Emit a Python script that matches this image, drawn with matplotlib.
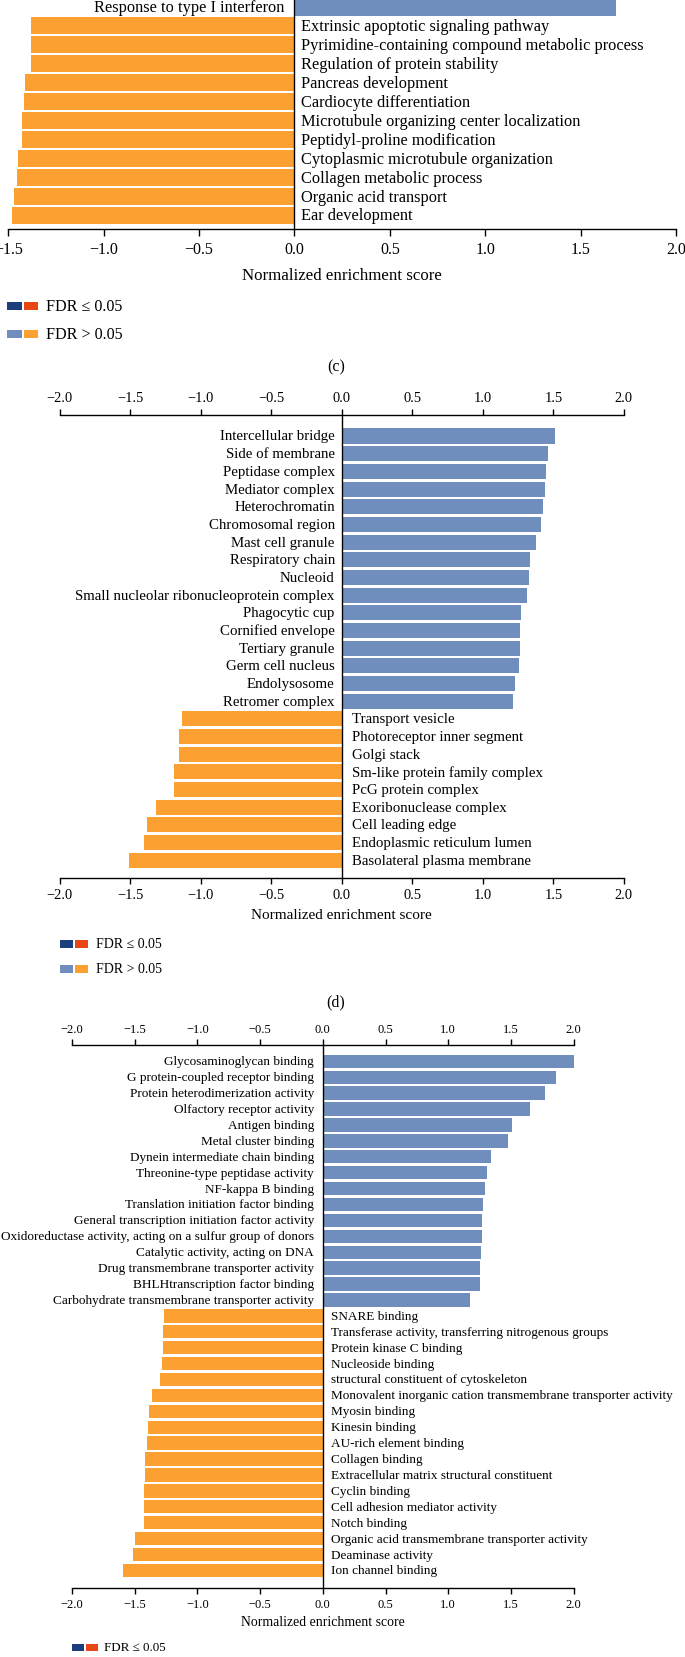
import matplotlib
matplotlib.use("Agg")
import matplotlib.pyplot as plt
from matplotlib.patches import Rectangle
from matplotlib.ticker import FuncFormatter, MultipleLocator

plt.rcParams['font.family'] = ['Liberation Serif', 'DejaVu Serif']

# ---------------- data ----------------
c_terms = ["Response to type I interferon", "Extrinsic apoptotic signaling pathway",
           "Pyrimidine-containing compound metabolic process", "Regulation of protein stability",
           "Pancreas development", "Cardiocyte differentiation",
           "Microtubule organizing center localization", "Peptidyl-proline modification",
           "Cytoplasmic microtubule organization", "Collagen metabolic process",
           "Organic acid transport", "Ear development"]
c_nes = [1.685, -1.38, -1.38, -1.38, -1.41, -1.42, -1.43, -1.43, -1.45, -1.455, -1.47, -1.48]

d_terms = ["Intercellular bridge", "Side of membrane", "Peptidase complex", "Mediator complex",
           "Heterochromatin", "Chromosomal region", "Mast cell granule", "Respiratory chain",
           "Nucleoid", "Small nucleolar ribonucleoprotein complex", "Phagocytic cup",
           "Cornified envelope", "Tertiary granule", "Germ cell nucleus", "Endolysosome",
           "Retromer complex", "Transport vesicle", "Photoreceptor inner segment", "Golgi stack",
           "Sm-like protein family complex", "PcG protein complex", "Exoribonuclease complex",
           "Cell leading edge", "Endoplasmic reticulum lumen", "Basolateral plasma membrane"]
d_nes = [1.515, 1.462, 1.447, 1.44, 1.425, 1.416, 1.38, 1.335, 1.326, 1.313, 1.27, 1.261,
         1.261, 1.255, 1.227, 1.217, -1.131, -1.152, -1.152, -1.187, -1.193, -1.32, -1.385,
         -1.406, -1.508]

e_terms = ["Glycosaminoglycan binding", "G protein-coupled receptor binding",
           "Protein heterodimerization activity", "Olfactory receptor activity", "Antigen binding",
           "Metal cluster binding", "Dynein intermediate chain binding",
           "Threonine-type peptidase activity", "NF-kappa B binding",
           "Translation initiation factor binding", "General transcription initiation factor activity",
           "Oxidoreductase activity, acting on a sulfur group of donors",
           "Catalytic activity, acting on DNA", "Drug transmembrane transporter activity",
           "BHLHtranscription factor binding", "Carbohydrate transmembrane transporter activity",
           "SNARE binding", "Transferase activity, transferring nitrogenous groups",
           "Protein kinase C binding", "Nucleoside binding", "structural constituent of cytoskeleton",
           "Monovalent inorganic cation transmembrane transporter activity", "Myosin binding",
           "Kinesin binding", "AU-rich element binding", "Collagen binding",
           "Extracellular matrix structural constituent", "Cyclin binding",
           "Cell adhesion mediator activity", "Notch binding",
           "Organic acid transmembrane transporter activity", "Deaminase activity",
           "Ion channel binding"]
e_nes = [2.002, 1.863, 1.772, 1.651, 1.508, 1.473, 1.341, 1.306, 1.292, 1.281, 1.268, 1.268,
         1.261, 1.254, 1.254, 1.177, -1.265, -1.275, -1.275, -1.286, -1.296, -1.359, -1.383,
         -1.394, -1.404, -1.415, -1.415, -1.422, -1.422, -1.428, -1.494, -1.515, -1.59]

legend_labels = ["FDR \u2264 0.05", "FDR > 0.05"]
panel_labels = ["(c)", "(d)"]
xlabel = "Normalized enrichment score"

# ---------------- style ----------------
BLUE = "#6F8EBE"
ORANGE = "#FCA131"
DBLUE = "#1B3E7C"
RED = "#E94616"

W, H = 685, 1658
DPI = 100
fig = plt.figure(figsize=(W / DPI, H / DPI), dpi=DPI)


def rect(l, r, t, b):
    return [l / W, 1 - b / H, (r - l) / W, (b - t) / H]


def fmt(v, pos):
    return f"{v:.1f}".replace("-", "\u2212")


def panel(terms, nes, l, r, t, b, y0, dy, xlim, height, fs, tfs, lfs, loff, roff,
          tlen, tpad, lpad, top_axis=True):
    ax = fig.add_axes(rect(l, r, t, b))
    ys = list(range(len(terms)))
    cols = [BLUE if v > 0 else ORANGE for v in nes]
    ax.barh(ys, nes, height=height, color=cols, edgecolor='none')
    ax.set_xlim(*xlim)
    ax.set_ylim((b - y0) / dy, (t - y0) / dy)
    ax.axvline(0, color='black', lw=1.0)
    for y, term, v in zip(ys, terms, nes):
        if v > 0:
            ax.annotate(term, (0, y), xytext=(-loff, 0), textcoords='offset points',
                        ha='right', va='center', fontsize=fs)
        else:
            ax.annotate(term, (0, y), xytext=(roff, 0), textcoords='offset points',
                        ha='left', va='center', fontsize=fs)
    for s in ['left', 'right']:
        ax.spines[s].set_visible(False)
    ax.spines['top'].set_visible(top_axis)
    ax.set_yticks([])
    ax.xaxis.set_major_locator(MultipleLocator(0.5))
    ax.xaxis.set_major_formatter(FuncFormatter(fmt))
    ax.tick_params(axis='x', direction='out', length=tlen, width=1, labelsize=tfs,
                   top=top_axis, labeltop=top_axis, bottom=True, labelbottom=True, pad=tpad)
    ax.set_xlabel(xlabel, fontsize=lfs, labelpad=lpad)
    for s in ax.spines.values():
        s.set_linewidth(1.0)
    return ax


def legend(x, ys, sw, sh, gap, fs, tx):
    for yy, (c1, c2), lab in zip(ys, [(DBLUE, RED), (BLUE, ORANGE)], legend_labels):
        fig.add_artist(Rectangle((x / W, 1 - (yy + sh / 2) / H), sw / W, sh / H,
                                 transform=fig.transFigure, color=c1, lw=0))
        fig.add_artist(Rectangle(((x + sw + gap) / W, 1 - (yy + sh / 2) / H), sw / W, sh / H,
                                 transform=fig.transFigure, color=c2, lw=0))
        fig.text(tx / W, 1 - yy / H, lab, fontsize=fs, ha='left', va='center')


# panel (c) (cropped at top)
panel(c_terms, c_nes, 8.3, 676, 0, 230, 8.0, 18.95, (-1.5, 2.0), 0.9,
      11.8, 11.5, 12.2, 7.6, 5.0, 5.0, 3.5, 7, top_axis=False)
legend(7.4, [307, 335], 14.4, 8, 2.2, 11.6, 45.9)
fig.text(336 / W, 1 - 367 / H, panel_labels[0], fontsize=11.5, ha='center', va='center')

# panel (d)
panel(d_terms, d_nes, 59.8, 623.8, 415.5, 879, 437.0, 17.67, (-2.0, 2.0), 0.85,
      10.7, 10.4, 11.0, 5.0, 7.0, 4.0, 3.5, 5)
legend(59.8, [945, 970], 13.2, 7.5, 2.0, 10.0, 96)
fig.text(336 / W, 1 - 1002 / H, panel_labels[1], fontsize=11.5, ha='center', va='center')

# panel (e)
panel(e_terms, e_nes, 72, 573.6, 1046, 1589, 1062.3, 15.91, (-2.0, 2.0), 0.84,
      9.5, 9.0, 9.9, 6.3, 5.6, 4.0, 3.0, 4)
legend(72, [1648], 12.3, 7, 1.7, 9.4, 104)

fig.savefig("out.png", dpi=DPI)
